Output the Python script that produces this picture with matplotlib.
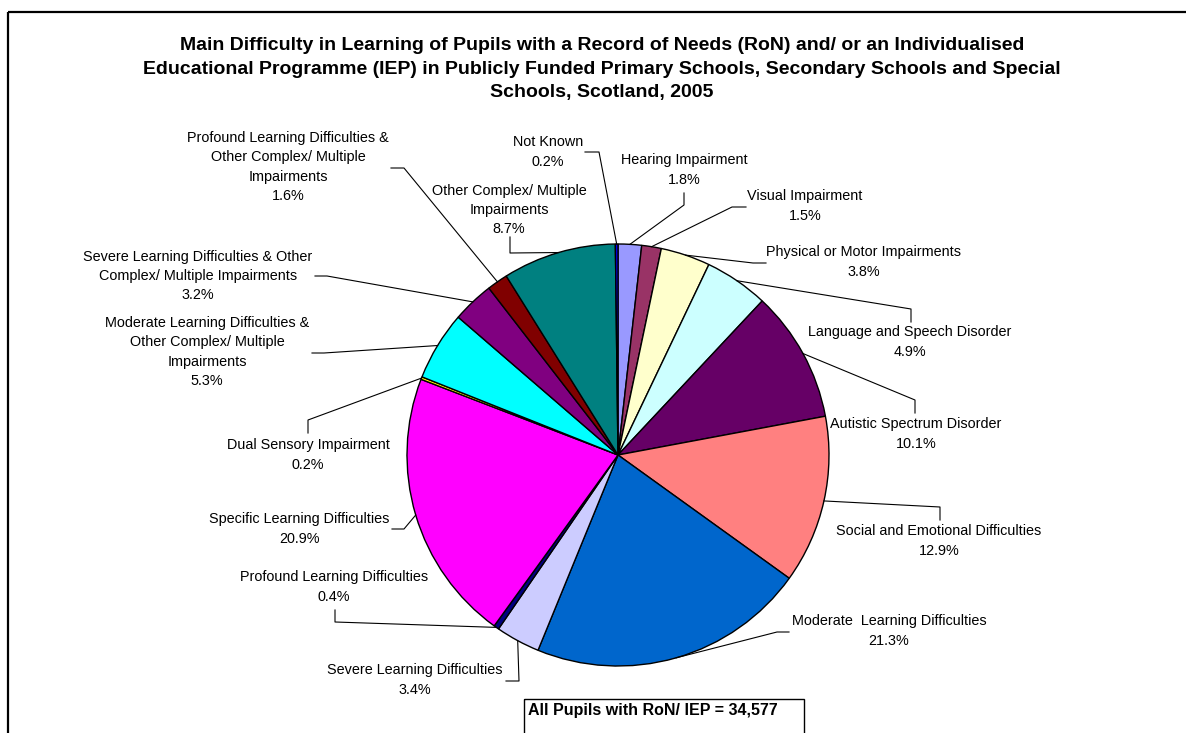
import numpy as np
import matplotlib
matplotlib.use("Agg")
import matplotlib.pyplot as plt
from matplotlib.patches import Rectangle

plt.rcParams['font.family'] = ['Liberation Sans', 'DejaVu Sans']

# data: main difficulty in learning, % of pupils (clockwise from 12 o'clock)
categories = [
    "Hearing Impairment",
    "Visual Impairment",
    "Physical or Motor Impairments",
    "Language and Speech Disorder",
    "Autistic Spectrum Disorder",
    "Social and Emotional Difficulties",
    "Moderate  Learning Difficulties",
    "Severe Learning Difficulties",
    "Profound Learning Difficulties",
    "Specific Learning Difficulties",
    "Dual Sensory Impairment",
    "Moderate Learning Difficulties &\nOther Complex/ Multiple\nImpairments",
    "Severe Learning Difficulties & Other\nComplex/ Multiple Impairments",
    "Profound Learning Difficulties &\nOther Complex/ Multiple\nImpairments",
    "Other Complex/ Multiple\nImpairments",
    "Not Known",
]
percent = [1.8, 1.5, 3.8, 4.9, 10.1, 12.9, 21.3, 3.4, 0.4, 20.9, 0.2, 5.3, 3.2, 1.6, 8.7, 0.2]
colours = ["#9999FF", "#993366", "#FFFFCC", "#CCFFFF", "#660066", "#FF8080",
           "#0066CC", "#CCCCFF", "#000080", "#FF00FF", "#FFFF00", "#00FFFF",
           "#800080", "#800000", "#008080", "#0000FF"]
total_pupils = 34577

title = ("Main Difficulty in Learning of Pupils with a Record of Needs (RoN) and/ or an Individualised\n"
         "Educational Programme (IEP) in Publicly Funded Primary Schools, Secondary Schools and Special\n"
         "Schools, Scotland, 2005")

# layout in pixels (x right, y down): label centre, leader start, leader elbow
label_pos = [(684, 170), (805, 206), (864, 262), (910, 342), (916, 434), (939, 541),
             (889, 631), (415, 680), (334, 587), (299, 529), (308, 455), (207, 352),
             (198, 276), (288, 167), (509, 210), (548, 152)]
leader_start = [(684, 193), (746, 207), (766, 263), (911, 322), (915, 413), (940, 520),
                (789, 632), (506, 681), (335, 610), (392, 529), (308, 433), (312, 353),
                (315, 276), (391, 168), (510, 237), (585, 152)]
leader_elbow = [(684, 205), (732, 207), (753, 263), (911, 309), (915, 400), (940, 507),
                (777, 632), (519, 681), (335, 622), (404, 529), (308, 420), (324, 353),
                (327, 276), (404, 168), (510, 253), (599, 152)]

W, H = 1186, 733
cx, cy, r = 618, 455, 211

fig = plt.figure(figsize=(W / 100, H / 100), dpi=100)
ax = fig.add_axes([0, 0, 1, 1])

# y axis points down, so counterclock in data space reads clockwise on screen
wedges, _ = ax.pie(percent, colors=colours, startangle=-90, counterclock=True,
                   radius=r, center=(cx, cy),
                   wedgeprops=dict(edgecolor="black", linewidth=1.0))
ax.set_xlim(0, W)
ax.set_ylim(H, 0)
ax.axis("off")

frac = np.cumsum(percent) / np.sum(percent)
mid = frac - np.array(percent) / np.sum(percent) / 2
theta = np.deg2rad(-90 + 360 * mid)

for i, name in enumerate(categories):
    ax.text(label_pos[i][0], label_pos[i][1], f"{name}\n{percent[i]:.1f}%",
            ha="center", va="center", multialignment="center",
            fontsize=10.4, linespacing=1.48)
    ex = cx + r * np.cos(theta[i])
    ey = cy + r * np.sin(theta[i])
    xs = [leader_start[i][0], leader_elbow[i][0], ex]
    ys = [leader_start[i][1], leader_elbow[i][1], ey]
    ax.plot(xs, ys, color="black", linewidth=0.8)

ax.text(602, 69, title, ha="center", va="center", fontsize=14,
        fontweight="bold", linespacing=1.52)

# outer chart frame and total box (both run off the image edge)
ax.add_patch(Rectangle((8, 12), W + 20, H + 20, fill=False, edgecolor="black",
                       linewidth=1.6, clip_on=False))
ax.add_patch(Rectangle((524, 699), 280, 60, fill=False, edgecolor="black",
                       linewidth=1.0, clip_on=False))
ax.text(528, 711, f"All Pupils with RoN/ IEP = {total_pupils:,}", ha="left",
        va="center", fontsize=11.5, fontweight="bold")

fig.savefig("out.png", dpi=100)
